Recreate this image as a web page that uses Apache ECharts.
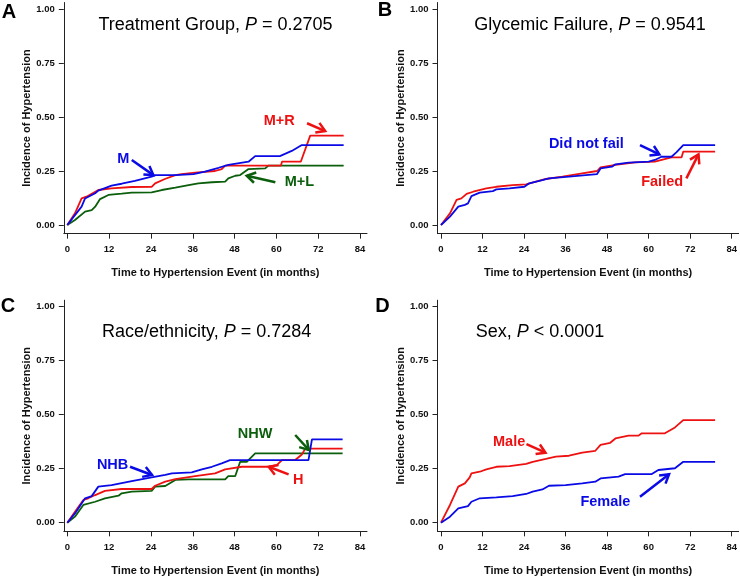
<!DOCTYPE html>
<html><head><meta charset="utf-8">
<script src="https://cdn.jsdelivr.net/npm/echarts@6/dist/echarts.min.js"></script>
<style>html,body{margin:0;padding:0;background:#fff}#c{width:740px;height:579px}</style>
</head><body><div id="c"></div>
<script>
// ---------- data ----------
const xTicks = [0, 12, 24, 36, 48, 60, 72, 84];
const yTicks = [0, 0.25, 0.5, 0.75, 1];
const yTickLabels = ['0.00', '0.25', '0.50', '0.75', '1.00'];
const xTitle = 'Time to Hypertension Event (in months)';
const yTitle = 'Incidence of Hypertension';

// Panel A: Treatment group
const aM = [[0,0],[4.1,0.085],[5.1,0.123],[8,0.147],[8.9,0.159],[12.7,0.182],[15.6,0.191],[19.4,0.204],[24.2,0.224],[25.2,0.231],[31,0.231],[36.2,0.236],[39.5,0.247],[43.4,0.265],[46.2,0.278],[52,0.293],[53.9,0.319],[61,0.319],[64.4,0.343],[67.3,0.37],[79.3,0.37]];
const aMR = [[0,0],[2.2,0.054],[4.1,0.123],[5.5,0.131],[8.9,0.162],[12.7,0.17],[18.5,0.176],[24.2,0.177],[25.2,0.193],[28,0.213],[31,0.231],[32.8,0.236],[36.7,0.242],[42.4,0.25],[44.3,0.259],[45.3,0.275],[61.3,0.275],[61.6,0.293],[67,0.293],[69.7,0.414],[79.3,0.414]];
const aML = [[0,0],[2.2,0.023],[5.1,0.062],[7,0.069],[8,0.085],[9.4,0.12],[11.8,0.139],[15.6,0.145],[18.5,0.15],[24.2,0.151],[27.1,0.162],[31,0.173],[34.8,0.185],[37.6,0.193],[41.5,0.198],[45.3,0.201],[46.2,0.216],[48.2,0.228],[49.6,0.231],[52,0.259],[56.8,0.262],[57.7,0.275],[79.3,0.275]];

// Panel B: Glycemic failure
const bNotFail = [[0,0],[2.6,0.039],[5,0.085],[6.9,0.093],[7.8,0.1],[8.8,0.134],[11.2,0.15],[15,0.157],[16,0.165],[19.8,0.17],[24.1,0.177],[25.5,0.193],[29.3,0.208],[31.2,0.216],[37,0.224],[45.1,0.236],[46.1,0.262],[49.4,0.27],[50.4,0.281],[54.2,0.289],[60,0.293],[61.8,0.301],[63.7,0.316],[66.6,0.316],[68,0.336],[70,0.37],[79.2,0.37]];
const bFailed = [[0,0],[2.6,0.054],[4.5,0.116],[5.9,0.123],[7.4,0.144],[9.3,0.154],[13.1,0.17],[16,0.177],[20.7,0.185],[24.6,0.188],[27.4,0.201],[30.3,0.213],[35.1,0.224],[40.8,0.239],[45.1,0.25],[46.1,0.267],[50.4,0.278],[56.1,0.29],[61.8,0.293],[66.6,0.313],[69.5,0.313],[70,0.34],[79.2,0.34]];

// Panel C: Race/ethnicity
const cNHB = [[0,0],[2.2,0.043],[5.1,0.113],[7,0.123],[8.9,0.167],[12.7,0.174],[18.5,0.193],[24.2,0.21],[28.1,0.221],[30,0.228],[35.7,0.233],[38.6,0.247],[41.5,0.259],[44.3,0.275],[46.7,0.29],[69.2,0.29],[70.2,0.386],[79,0.386]];
const cH = [[0,0],[2.2,0.051],[4.6,0.105],[6,0.113],[8,0.128],[10.8,0.147],[15.6,0.156],[24.2,0.156],[25.2,0.171],[28.1,0.19],[31,0.202],[36.7,0.216],[42.4,0.228],[45.3,0.247],[50.1,0.259],[57.7,0.259],[60.1,0.267],[61.6,0.29],[65.4,0.29],[67.3,0.316],[68.3,0.343],[79,0.343]];
const cNHW = [[0,0],[2.2,0.028],[4.6,0.082],[8,0.097],[10.8,0.113],[14.7,0.125],[15.6,0.136],[18.5,0.144],[24.2,0.147],[25.2,0.167],[28.1,0.17],[31,0.198],[34.8,0.201],[45.3,0.201],[46.2,0.216],[48.2,0.216],[49.6,0.282],[51.5,0.282],[53.9,0.321],[79,0.321]];

// Panel D: Sex
const dMale = [[0,0],[2.6,0.082],[5,0.167],[6.9,0.182],[8.3,0.21],[8.8,0.228],[11.2,0.236],[13.1,0.247],[16,0.259],[19.8,0.262],[24.6,0.272],[26.5,0.282],[30.3,0.295],[33.2,0.306],[37,0.31],[40.8,0.324],[44.6,0.333],[46.1,0.36],[48.9,0.37],[50.4,0.39],[54.2,0.403],[57.1,0.403],[58,0.414],[64.7,0.414],[67.6,0.441],[70,0.475],[79.2,0.475]];
const dFemale = [[0,0],[2.6,0.028],[5,0.066],[7.8,0.077],[8.8,0.097],[11.2,0.113],[16,0.117],[20.7,0.123],[24.6,0.133],[26.5,0.144],[29.3,0.154],[31.2,0.171],[36,0.174],[40.8,0.182],[44.6,0.19],[46.1,0.205],[51.3,0.213],[53.2,0.225],[60.9,0.225],[62.8,0.244],[67.6,0.252],[70,0.282],[79.2,0.282]];

// panel titles
const titles = [
  ['Treatment Group, ', 'P', ' = 0.2705'],
  ['Glycemic Failure, ', 'P', ' = 0.9541'],
  ['Race/ethnicity, ', 'P', ' = 0.7284'],
  ['Sex, ', 'P', ' < 0.0001']
];
const letters = ['A', 'B', 'C', 'D'];

// annotations: [panel, text, colorKey, labelX, labelY, arrowFromX, arrowFromY, arrowToX, arrowToY]
const annotations = [
  [0, 'M', 'blue', 16.1, 0.304, 18.5, 0.301, 24.7, 0.231],
  [0, 'M+R', 'red', 60.8, 0.481, 68.8, 0.471, 74.0, 0.435],
  [0, 'M+L', 'green', 66.6, 0.197, 59.7, 0.198, 51.5, 0.228],
  [1, 'Did not fail', 'blue', 42.0, 0.374, 57.5, 0.370, 63.1, 0.327],
  [1, 'Failed', 'red', 63.9, 0.198, 70.9, 0.216, 74.4, 0.327],
  [2, 'NHB', 'blue', 13.0, 0.269, 18.0, 0.259, 24.3, 0.221],
  [2, 'NHW', 'green', 53.9, 0.410, 65.4, 0.406, 69.3, 0.337],
  [2, 'H', 'red', 66.3, 0.198, 63.5, 0.224, 57.8, 0.259],
  [3, 'Male', 'red', 19.7, 0.375, 24.7, 0.364, 30.2, 0.324],
  [3, 'Female', 'blue', 47.5, 0.095, 57.5, 0.120, 65.9, 0.224]
];

// ---------- styling / layout ----------
const COL = { blue: '#0a0ae6', red: '#ee1111', green: '#0b5e0b' };
const FONT = '"Liberation Sans", Arial, sans-serif';
const pxPerMonth = 3.485;
const pxPerUnit = 216;
const xMin = -1, xMax = 86, yMin = -0.04, yMax = 1.03;
const origins = [[67.3, 225], [441, 225], [67.3, 522.7], [441, 522.7]];

const grids = origins.map(o => ({
  left: o[0] + xMin * pxPerMonth,
  top: o[1] - yMax * pxPerUnit,
  width: (xMax - xMin) * pxPerMonth,
  height: (yMax - yMin) * pxPerUnit
}));

const xAxes = grids.map((g, i) => ({
  type: 'value', gridIndex: i, min: xMin, max: xMax,
  axisLine: { show: true, onZero: false, lineStyle: { color: '#222', width: 1 } },
  axisTick: { show: true, length: 5, lineStyle: { color: '#222' }, customValues: xTicks },
  axisLabel: { show: true, customValues: xTicks, margin: 11, fontFamily: FONT, fontWeight: 'bold', fontSize: 9.5, color: '#111' },
  splitLine: { show: false },
  name: xTitle, nameLocation: 'middle', nameGap: 34,
  nameTextStyle: { fontFamily: FONT, fontWeight: 'bold', fontSize: 11, color: '#111' }
}));
const yAxes = grids.map((g, i) => ({
  type: 'value', gridIndex: i, min: yMin, max: yMax,
  axisLine: { show: true, onZero: false, lineStyle: { color: '#222', width: 1 } },
  axisTick: { show: true, length: 5, lineStyle: { color: '#222' }, customValues: yTicks },
  axisLabel: { show: true, customValues: yTicks, margin: 9, fontFamily: FONT, fontWeight: 'bold', fontSize: 9.5, color: '#111',
    formatter: v => { const k = yTicks.findIndex(t => Math.abs(t - v) < 1e-9); return k >= 0 ? yTickLabels[k] : ''; } },
  splitLine: { show: false },
  name: yTitle, nameLocation: 'middle', nameGap: 31,
  nameTextStyle: { fontFamily: FONT, fontWeight: 'bold', fontSize: 11, color: '#111' }
}));

function line(idx, data, color) {
  return { type: 'line', xAxisIndex: idx, yAxisIndex: idx, data: data, showSymbol: false, symbol: 'none',
    lineStyle: { color: color, width: 1.8 }, itemStyle: { color: color }, silent: true, animation: false, z: 3 };
}
const series = [
  line(0, aML, COL.green), line(0, aMR, COL.red), line(0, aM, COL.blue),
  line(1, bFailed, COL.red), line(1, bNotFail, COL.blue),
  line(2, cNHW, COL.green), line(2, cH, COL.red), line(2, cNHB, COL.blue),
  line(3, dMale, COL.red), line(3, dFemale, COL.blue)
];

annotations.forEach(a => {
  const color = COL[a[2]];
  const text = a[1];
  series.push({
    type: 'custom', xAxisIndex: a[0], yAxisIndex: a[0], silent: true, animation: false, z: 5,
    data: [[a[3], a[4], a[5], a[6], a[7], a[8]]],
    encode: { x: [0, 2, 4], y: [1, 3, 5] },
    renderItem: function (params, api) {
      const lp = api.coord([api.value(0), api.value(1)]);
      const p1 = api.coord([api.value(2), api.value(3)]);
      const p2 = api.coord([api.value(4), api.value(5)]);
      const ang = Math.atan2(p2[1] - p1[1], p2[0] - p1[0]);
      const L = 10, h = 0.55;
      const q1 = [p2[0] - L * Math.cos(ang - h), p2[1] - L * Math.sin(ang - h)];
      const q2 = [p2[0] - L * Math.cos(ang + h), p2[1] - L * Math.sin(ang + h)];
      return { type: 'group', children: [
        { type: 'text', x: lp[0], y: lp[1], style: { text: text, fill: color, font: 'bold 14.5px ' + FONT, align: 'center', verticalAlign: 'middle' } },
        { type: 'line', shape: { x1: p1[0], y1: p1[1], x2: p2[0], y2: p2[1] }, style: { stroke: color, lineWidth: 2.5 } },
        { type: 'polyline', shape: { points: [q1, p2, q2] }, style: { stroke: color, lineWidth: 2.5, fill: null } }
      ] };
    }
  });
});

const titleCenters = [[215.5, 25], [590, 25], [206.7, 331.7], [540, 331.7]];
const letterPos = [[9, 12], [385, 10], [8, 306.5], [382.5, 306.5]];
const graphics = [];
titles.forEach((t, i) => {
  graphics.push({ type: 'text', x: titleCenters[i][0], y: titleCenters[i][1], silent: true,
    style: { text: '{n|' + t[0] + '}{i|' + t[1] + '}{n|' + t[2] + '}', align: 'center', verticalAlign: 'middle',
      rich: { n: { fontFamily: FONT, fontSize: 18, fill: '#000', color: '#000' },
              i: { fontFamily: FONT, fontSize: 18, fontStyle: 'italic', fill: '#000', color: '#000' } } } });
});
letters.forEach((l, i) => {
  graphics.push({ type: 'text', x: letterPos[i][0], y: letterPos[i][1], silent: true,
    style: { text: l, font: 'bold 20px ' + FONT, fill: '#000', align: 'center', verticalAlign: 'middle' } });
});

const chart = echarts.init(document.getElementById('c'), null, { renderer: 'canvas' });
chart.setOption({
  animation: false,
  backgroundColor: '#fff',
  grid: grids,
  xAxis: xAxes,
  yAxis: yAxes,
  series: series,
  graphic: graphics
});
</script></body></html>
